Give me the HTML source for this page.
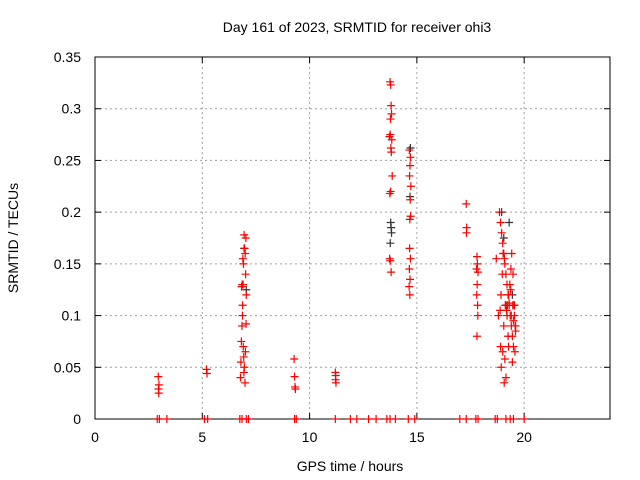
<!DOCTYPE html>
<html><head><meta charset="utf-8"><style>
body{margin:0;background:#fff;}
svg{display:block;font-family:"Liberation Sans",sans-serif;}
</style></head><body>
<svg id="chart" width="640" height="480">
<text x="357" y="32" font-size="14" text-anchor="middle">Day 161 of 2023, SRMTID for receiver ohi3</text>
<text x="350" y="471" font-size="14" text-anchor="middle">GPS time / hours</text>
<text transform="translate(18,238) rotate(-90)" font-size="14" text-anchor="middle">SRMTID / TECUs</text>
<g id="grid"></g><g id="axes"></g><g id="marks"></g>
</svg>
<script>
const xTicks=[0,5,10,15,20];
const yTicks=[0,0.05,0.1,0.15,0.2,0.25,0.3,0.35];
const yTickLabels=["0","0.05","0.1","0.15","0.2","0.25","0.3","0.35"];
const redHours=[2.95,2.98,2.96,2.97,5.2,5.22,
6.78,6.8,6.82,6.85,6.88,6.9,6.92,6.95,6.97,7.0,7.02,7.05,6.83,6.87,6.91,6.93,6.96,6.99,7.01,7.04,6.86,6.89,6.94,7.03,
9.28,9.3,9.32,9.34,11.2,11.22,11.21,11.23,
13.75,13.78,13.8,13.82,13.77,13.76,13.83,13.79,13.81,13.85,13.78,13.74,13.73,13.76,13.8,13.72,
14.65,14.7,14.68,14.66,14.72,14.69,14.71,14.67,14.66,14.7,14.65,14.68,14.64,14.67,
17.3,17.32,17.31,17.8,17.82,17.78,17.85,17.81,17.79,17.83,17.8,17.84,
18.7,18.85,18.9,18.95,19.0,19.05,19.1,19.15,19.2,19.25,19.3,19.35,19.4,19.45,19.5,19.55,19.6,18.8,18.88,18.92,18.98,19.02,19.08,19.12,19.18,19.22,19.28,19.33,19.38,19.42,19.48,19.52,19.58,18.9,19.0,19.1,19.2,19.3,19.4,19.5,19.6,18.93,19.07,19.27,19.37,19.47,19.57,19.15,19.25,19.45,19.55,19.05];
const redValues=[0.041,0.033,0.029,0.025,0.048,0.044,
0.04,0.055,0.075,0.09,0.11,0.13,0.15,0.178,0.165,0.16,0.14,0.12,0.128,0.1,0.07,0.06,0.05,0.035,0.065,0.092,0.13,0.155,0.045,0.175,
0.058,0.041,0.031,0.029,0.045,0.042,0.038,0.035,
0.326,0.323,0.303,0.295,0.29,0.275,0.27,0.262,0.258,0.235,0.22,0.218,0.155,0.153,0.142,0.273,
0.26,0.253,0.245,0.235,0.225,0.212,0.196,0.193,0.165,0.155,0.145,0.135,0.128,0.12,
0.208,0.185,0.18,0.157,0.15,0.145,0.142,0.13,0.12,0.11,0.08,0.1,
0.155,0.2,0.19,0.18,0.17,0.16,0.15,0.14,0.13,0.12,0.11,0.1,0.09,0.08,0.07,0.1,0.09,0.1,0.105,0.12,0.14,0.16,0.155,0.11,0.105,0.11,0.12,0.13,0.145,0.16,0.14,0.11,0.09,0.07,0.065,0.058,0.1,0.112,0.1,0.095,0.085,0.05,0.035,0.07,0.125,0.11,0.065,0.04,0.08,0.055,0.11,0.09,0.13,0.18];
const blackHours=[6.95,7.05,13.78,13.8,13.76,13.82,14.7,14.68,18.95,19.05,19.3,19.45,19.15];
const blackValues=[0.165,0.125,0.19,0.185,0.17,0.18,0.262,0.215,0.2,0.175,0.19,0.12,0.11];
const zeroHours=[2.9,3.0,3.35,5.1,5.25,6.75,6.85,7.05,7.15,9.3,9.38,11.2,11.9,12.2,12.75,13.1,13.6,13.75,14.0,14.6,14.9,17.0,17.3,17.75,17.85,18.65,18.75,19.15,19.35,19.5,20.0];

const NS="http://www.w3.org/2000/svg";
const X0=95,X1=610,Y0=419,Y1=57,XMAX=24,YMAX=0.35;
const xs=h=>X0+(X1-X0)*h/XMAX, ys=v=>Y0-(Y0-Y1)*v/YMAX;
function mk(tag,attrs,parent){const e=document.createElementNS(NS,tag);for(const k in attrs)e.setAttribute(k,attrs[k]);parent.appendChild(e);return e;}
const grid=document.getElementById('grid'),axes=document.getElementById('axes'),marks=document.getElementById('marks');
xTicks.forEach(t=>{const x=xs(t);
 if(t>0){const g=mk('line',{x1:x,x2:x,y1:Y1,y2:Y0,stroke:'#a0a0a0','stroke-dasharray':'2,3'},grid);
 
 }
 mk('line',{x1:x,x2:x,y1:Y0,y2:Y0-6,stroke:'#000'},axes);mk('line',{x1:x,x2:x,y1:Y1,y2:Y1+6,stroke:'#000'},axes);
 const tx=mk('text',{x:x,y:Y0+23,'font-size':14,'text-anchor':'middle'},axes);tx.textContent=t;
 
 });
yTicks.forEach((t,i)=>{const y=ys(t);
 if(t>0&&t<YMAX){const g=mk('line',{x1:X0,x2:X1,y1:y,y2:y,stroke:'#a0a0a0','stroke-dasharray':'2,3'},grid);
 
 }
 mk('line',{x1:X0,x2:X0+6,y1:y,y2:y,stroke:'#000'},axes);mk('line',{x1:X1,x2:X1-6,y1:y,y2:y,stroke:'#000'},axes);
 const tx=mk('text',{x:X0-14,y:y+5,'font-size':14,'text-anchor':'end'},axes);tx.textContent=yTickLabels[i];
 
 });
const fr=mk('rect',{x:X0,y:Y1,width:X1-X0,height:Y0-Y1,fill:'none',stroke:'#000'},axes);


function cross(h,v,col,name){const x=xs(h),y=ys(v);
 const p=mk('path',{d:`M${x-4},${y}H${x+4}M${x},${y-4}V${y+4}`,stroke:col,'stroke-width':1.2,fill:'none'},marks);
 
 }
blackHours.forEach((h,i)=>cross(h,blackValues[i],'#333','black-point'));
redHours.forEach((h,i)=>cross(h,redValues[i],'#ff0000','red-point'));
zeroHours.forEach(h=>cross(h,0,'#ff0000','zero-point'));
</script>
</body></html>
